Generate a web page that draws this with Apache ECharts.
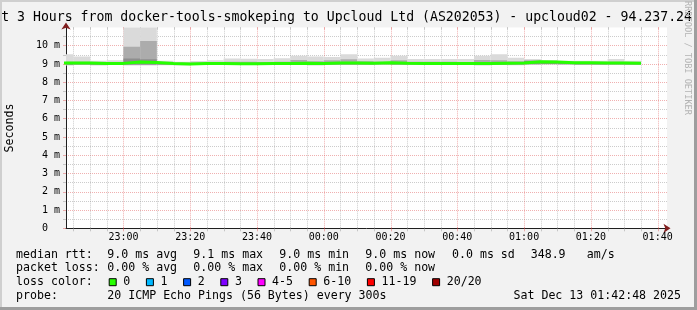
<!DOCTYPE html>
<html><head><meta charset="utf-8">
<script src="https://cdn.jsdelivr.net/npm/echarts@6/dist/echarts.min.js"></script>
<style>html,body{margin:0;padding:0;background:#f2f2f2;}#c{width:697px;height:310px;}</style>
</head><body><div id="c"></div>
<script>
// ---------------- data ----------------
const titleText = 'Last 3 Hours from docker-tools-smokeping to Upcloud Ltd (AS202053) - upcloud02 - 94.237.24';
const yAxisName = 'Seconds';
const watermark = 'RRDTOOL / TOBI OETIKER';
const xStart = '22:42:48';
const xEnd = '01:42:48';
const yMax = 11;              // ms
const xMajorLabels = ['23:00','23:20','23:40','00:00','00:20','00:40','01:00','01:20','01:40'];

const binEnd = ['22:45','22:50','22:55','23:00','23:05','23:10','23:15','23:20','23:25','23:30',
                '23:35','23:40','23:45','23:50','23:55','00:00','00:05','00:10','00:15','00:20',
                '00:25','00:30','00:35','00:40','00:45','00:50','00:55','01:00','01:05','01:10',
                '01:15','01:20','01:25','01:30','01:35'];
// median rtt (ms)
const median = [9.05,9.05,9.02,9.03,9.10,9.08,9.03,9.00,9.02,9.02,
                9.01,9.01,9.02,9.03,9.04,9.03,9.05,9.05,9.04,9.06,
                9.04,9.03,9.03,9.02,9.02,9.03,9.04,9.05,9.12,9.10,
                9.07,9.06,9.05,9.05,9.04];
// smoke layers (ms): outer (light), middle, inner (dark)
const smokeLo1 = [8.92,8.95,8.92,8.94,8.92,8.92,8.93,8.92,8.94,8.95,
                  8.95,8.95,8.95,8.94,8.94,8.92,8.95,8.95,8.95,8.96,
                  8.95,8.96,8.96,8.95,8.95,8.92,8.94,8.93,8.95,8.97,
                  8.96,8.95,8.95,8.96,8.95];
const smokeHi1 = [9.53,9.40,9.17,9.20,12.0,12.0,9.18,9.12,9.16,9.20,
                  9.30,9.29,9.27,9.31,9.45,9.40,9.38,9.53,9.30,9.34,
                  9.45,9.27,9.27,9.27,9.27,9.45,9.53,9.34,9.27,9.22,
                  9.18,9.17,9.18,9.27,9.18];
const smokeLo2 = [8.94,8.96,8.94,8.95,8.94,8.94,8.95,8.94,8.95,8.96,
                  8.96,8.96,8.96,8.95,8.95,8.94,8.96,8.96,8.96,8.97,
                  8.96,8.97,8.97,8.96,8.96,8.94,8.95,8.95,8.97,8.98,
                  8.97,8.96,8.96,8.97,8.96];
const smokeHi2 = [9.12,9.12,9.10,9.10,9.94,10.26,9.08,9.06,9.08,9.10,
                  9.12,9.12,9.10,9.12,9.22,9.15,9.20,9.25,9.15,9.12,
                  9.20,9.12,9.12,9.12,9.10,9.22,9.20,9.15,9.20,9.16,
                  9.12,9.10,9.10,9.12,9.10];
const smokeLo3 = [8.97,8.98,8.97,8.97,8.97,8.97,8.97,8.96,8.97,8.98,
                  8.97,8.97,8.98,8.97,8.97,8.97,8.98,8.98,8.98,8.99,
                  8.98,8.98,8.98,8.97,8.97,8.97,8.97,8.98,9.00,9.00,
                  8.99,8.98,8.98,8.98,8.98];
const smokeHi3 = [9.08,9.08,9.05,9.06,9.30,9.25,9.06,9.03,9.05,9.05,
                  9.05,9.05,9.05,9.06,9.08,9.07,9.09,9.09,9.08,9.09,
                  9.08,9.06,9.06,9.05,9.05,9.07,9.08,9.09,9.16,9.14,
                  9.10,9.09,9.08,9.08,9.07];

const statsRtt  = ['median rtt:','9.0 ms avg','9.1 ms max','9.0 ms min','9.0 ms now','0.0 ms sd','348.9','am/s'];
const statsLoss = ['packet loss:','0.00 % avg','0.00 % max','0.00 % min','0.00 % now'];
const lossTitle = 'loss color:';
const lossLabels = ['0','1','2','3','4-5','6-10','11-19','20/20'];
const lossColors = ['#26ff00','#00b8ff','#0059ff','#7e00ff','#ff00ff','#ff5500','#ff0000','#a00000'];
const probeTitle = 'probe:';
const probeText = '20 ICMP Echo Pings (56 Bytes) every 300s';
const stampText = 'Sat Dec 13 01:42:48 2025';

// ---------------- helpers / styles ----------------
const MONO = '"DejaVu Sans Mono", monospace';
const MAJ = 'rgba(222,79,79,0.45)';
const MIN = 'rgba(143,143,143,0.45)';
function tm(s){ const p = s.split(':').map(Number); let m = p[0]*60 + p[1] + (p[2]||0)/60; if (p[0] < 12) m += 1440; return m; }
const xMin = tm(xStart), xMax = tm(xEnd);

// vertical grid positions: every 5 minutes, majors labelled
const majorSet = {};
xMajorLabels.forEach(l => majorSet[tm(l)] = l);
const gridData = [];
for (let t = Math.ceil(xMin/5)*5; t <= xMax; t += 5) gridData.push([t, majorSet[t] ? 1 : 0]);
const gridLabels = gridData.map(d => majorSet[d[0]] || '');

const chart = echarts.init(document.getElementById('c'), null, {renderer:'canvas'});

// graphic elements (frame, texts, legend)
const g = [];
g.push({type:'rect', shape:{x:0,y:0,width:697,height:2}, style:{fill:'#cfcfcf'}, silent:true});
g.push({type:'rect', shape:{x:0,y:0,width:2,height:310}, style:{fill:'#cfcfcf'}, silent:true});
g.push({type:'rect', shape:{x:694,y:0,width:3,height:310}, style:{fill:'#9e9e9e'}, silent:true, z:10});
g.push({type:'rect', shape:{x:0,y:307,width:697,height:3}, style:{fill:'#9e9e9e'}, silent:true, z:10});
g.push({type:'text', x:-22.6, y:18, style:{text:titleText, font:'13.2px '+MONO, fill:'#000', align:'left', verticalAlign:'middle'}, silent:true});
g.push({type:'text', x:10, y:128, rotation:Math.PI/2, style:{text:yAxisName, font:'11.6px '+MONO, fill:'#000', align:'center', verticalAlign:'middle'}, silent:true});
g.push({type:'text', x:687.5, y:58, rotation:-Math.PI/2, style:{text:watermark, font:'8.6px '+MONO, fill:'#b4b4b4', align:'center', verticalAlign:'middle'}, silent:true});
const rowY = [254.5, 268.2, 282.2, 296];
const colX = [16, 107.3, 193.3, 279.3, 365.3, 452, 530.7, 586.7];
statsRtt.forEach((s,i)=> g.push({type:'text', x:colX[i], y:rowY[0], style:{text:s, font:'11.6px '+MONO, fill:'#000', align:'left', verticalAlign:'middle'}, silent:true}));
statsLoss.forEach((s,i)=> g.push({type:'text', x:colX[i], y:rowY[1], style:{text:s, font:'11.6px '+MONO, fill:'#000', align:'left', verticalAlign:'middle'}, silent:true}));
g.push({type:'text', x:16, y:rowY[2], style:{text:lossTitle, font:'11.6px '+MONO, fill:'#000', align:'left', verticalAlign:'middle'}, silent:true});
let sx = 108.7;
lossLabels.forEach((l,i)=>{
  g.push({type:'rect', shape:{x:sx+0.5, y:rowY[2]-3.5, width:7, height:7}, style:{fill:lossColors[i], stroke:'#000', lineWidth:1}, silent:true});
  g.push({type:'text', x:sx+14.6, y:rowY[2], style:{text:l, font:'11.6px '+MONO, fill:'#000', align:'left', verticalAlign:'middle'}, silent:true});
  sx = sx + 14.6 + l.length*7.0 + 15.6;
});
g.push({type:'text', x:16, y:rowY[3], style:{text:probeTitle, font:'11.6px '+MONO, fill:'#000', align:'left', verticalAlign:'middle'}, silent:true});
g.push({type:'text', x:107.3, y:rowY[3], style:{text:probeText, font:'11.6px '+MONO, fill:'#000', align:'left', verticalAlign:'middle'}, silent:true});
g.push({type:'text', x:681, y:rowY[3], style:{text:stampText, font:'11.6px '+MONO, fill:'#000', align:'right', verticalAlign:'middle'}, silent:true});

const smokeData = binEnd.map((e,i)=>[tm(e)-5, tm(e), smokeLo1[i], smokeHi1[i], smokeLo2[i], smokeHi2[i], smokeLo3[i], smokeHi3[i]]);
const medData = [[tm(binEnd[0])-5, median[0]]].concat(binEnd.map((e,i)=>[tm(e), median[i]]));

chart.setOption({
  animation:false,
  backgroundColor:'#f2f2f2',
  graphic: g,
  grid:{left:66, right:30, top:27.4, bottom:81.7, show:true, backgroundColor:'#ffffff', borderWidth:0, containLabel:false},
  xAxis:[
    {type:'value', min:xMin, max:xMax, position:'bottom',
     axisLine:{show:true, lineStyle:{color:'#1f1f1f', width:1}}, axisTick:{show:false}, axisLabel:{show:false}, splitLine:{show:false}},
    {type:'value', min:xMin, max:xMax, position:'bottom',
     axisLine:{show:true, symbol:['none','arrow'], symbolSize:[7,7], symbolOffset:[0,3.5], lineStyle:{color:'#801f1f', width:0}},
     axisTick:{show:false}, axisLabel:{show:false}, splitLine:{show:false}}
  ],
  yAxis:[
    {type:'value', min:0, max:yMax, interval:1,
     axisLine:{show:true, lineStyle:{color:'#1f1f1f'}},
     axisTick:{show:true, length:3, lineStyle:{color:MAJ}},
     minorTick:{show:true, splitNumber:2, length:3, lineStyle:{color:MIN}},
     axisLabel:{show:true, margin:6, showMaxLabel:false, color:'#000', fontFamily:'DejaVu Sans Mono', fontSize:10,
       formatter:v => v === 0 ? '0  ' : v + ' m'},
     splitLine:{show:true, showMaxLine:false, showMinLine:false, lineStyle:{color:MAJ, type:[1,1], width:1}},
     minorSplitLine:{show:true, lineStyle:{color:MIN, type:[1,1], width:1}}},
    {type:'value', min:0, max:yMax, position:'left',
     axisLine:{show:true, symbol:['none','arrow'], symbolSize:[7,7], symbolOffset:[0,5], lineStyle:{color:'#801f1f', width:0}},
     axisTick:{show:false}, axisLabel:{show:false}, splitLine:{show:false}}
  ],
  series:[
    { // vertical grid lines + x labels
      type:'custom', xAxisIndex:0, yAxisIndex:0, z:1, clip:false, silent:true,
      data: gridData,
      renderItem(params, api){
        const t = api.value(0), maj = api.value(1);
        const pb = api.coord([t, 0]), pt = api.coord([t, yMax]);
        const x = Math.round(pb[0]) + 0.5;
        const col = maj ? MAJ : MIN;
        const ch = [
          {type:'line', shape:{x1:x, y1:pb[1], x2:x, y2:pt[1]}, style:{stroke:col, lineWidth:1, lineDash:[1,1]}},
          {type:'line', shape:{x1:x, y1:pb[1]+3, x2:x, y2:pb[1]-1}, style:{stroke:col, lineWidth:1}},
          {type:'line', shape:{x1:x, y1:pt[1], x2:x, y2:pt[1]+2}, style:{stroke:col, lineWidth:1}}
        ];
        if (maj) ch.push({type:'text', x:pb[0], y:pb[1]+9, style:{text:gridLabels[params.dataIndex], font:'10px '+MONO, fill:'#000', align:'center', verticalAlign:'middle'}});
        return {type:'group', children:ch};
      }
    },
    { // smoke
      type:'custom', xAxisIndex:0, yAxisIndex:0, z:3, clip:true, silent:true,
      data: smokeData,
      renderItem(params, api){
        const x0 = api.value(0), x1 = api.value(1);
        const layers = [[2,3,'#dadada'],[4,5,'#acacac'],[6,7,'#8e8e8e']];
        const ch = layers.map(([a,b,c])=>{
          const p0 = api.coord([x0, api.value(b)]), p1 = api.coord([x1, api.value(a)]);
          return {type:'rect', shape:{x:p0[0], y:p0[1], width:p1[0]-p0[0], height:p1[1]-p0[1]}, style:{fill:c}};
        });
        return {type:'group', children:ch};
      }
    },
    { // median rtt
      type:'line', xAxisIndex:0, yAxisIndex:0, z:4, step:'start', showSymbol:false, symbol:'none', silent:true,
      data: medData,
      lineStyle:{color:lossColors[0], width:3}
    }
  ]
});
</script></body></html>
